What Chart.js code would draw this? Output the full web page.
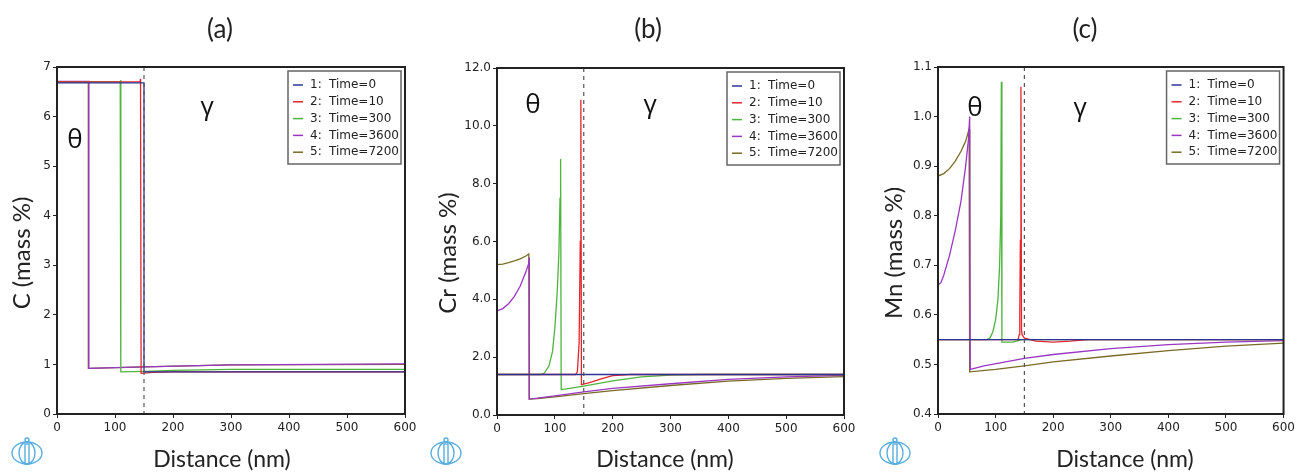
<!DOCTYPE html>
<html><head><meta charset="utf-8">
<script src="https://cdn.jsdelivr.net/npm/chart.js@4.4.1/dist/chart.umd.min.js"></script>
<style>
html,body{margin:0;padding:0;background:#fff;width:1298px;height:473px;overflow:hidden}
.p{position:absolute;top:0;height:473px}
</style></head><body>
<div class="p" style="left:0;width:436px"><canvas id="pa"></canvas></div>
<div class="p" style="left:428px;width:436px"><canvas id="pb"></canvas></div>
<div class="p" style="left:872px;width:426px"><canvas id="pc"></canvas></div>
<script>
/* shared */
const LEGEND_NUM = ["1:", "2:", "3:", "4:", "5:"];
const LEGEND_TEXT = ["Time=0", "Time=10", "Time=300", "Time=3600", "Time=7200"];
const COLORS = ["#2c3496", "#e4262c", "#4db43c", "#9b36c2", "#7b6a26"];
const X_MIN = 0, X_MAX = 600, X_STEP = 100;
const X_TITLE = "Distance (nm)";
const FRONT = 150; // dashed interface line

/* (a) C, mass % */
const cT0 = [[0,6.68],[150,6.68],[150,0.85],[600,0.85]];
const cT10 = [[0,6.7],[143,6.7],[144,6.76],[145,0.82],[165,0.84],[200,0.85],[600,0.85]];
const cT300 = [[0,6.7],[109,6.7],[110,6.74],[110,0.85],[150,0.86],[200,0.88],[300,0.9],[600,0.9]];
const cT3600 = [[0,6.71],[55,6.71],[55,0.92],[150,0.95],[300,0.99],[600,1.01]];
const cT7200 = [[0,6.7],[54,6.7],[54,0.92],[150,0.95],[300,0.99],[600,1.0]];

/* (b) Cr, mass % */
const crT0 = [[0,1.4],[600,1.4]];
const crT10 = [[0,1.4],[136,1.4],[139,1.5],[142,2.5],[144,6],[145,10.9],[146,1.05],[160,1.12],[180,1.25],[200,1.36],[230,1.4],[600,1.4]];
const crT300 = [[0,1.4],[75,1.4],[82,1.45],[90,1.7],[96,2.2],[100,3],[104,4.2],[107,5.6],[109,7.5],[110,8.85],[111,0.88],[120,0.9],[150,1.0],[200,1.18],[250,1.32],[300,1.38],[350,1.4],[600,1.4]];
const crT3600 = [[0,3.6],[10,3.68],[20,3.85],[30,4.1],[40,4.45],[50,4.95],[55,5.25],[56,5.45],[56,0.55],[70,0.58],[100,0.66],[150,0.8],[200,0.92],[300,1.08],[400,1.23],[500,1.32],[600,1.37]];
const crT7200 = [[0,5.2],[10,5.22],[20,5.27],[30,5.33],[40,5.4],[50,5.5],[55,5.57],[55.5,0.55],[70,0.57],[100,0.63],[150,0.74],[200,0.84],[300,1.02],[400,1.17],[500,1.27],[600,1.33]];

/* (c) Mn, mass % */
const mnT0 = [[0,0.55],[600,0.55]];
const mnT10 = [[0,0.55],[139,0.55],[141,0.56],[142,0.6],[143,0.75],[144,1.06],[145,0.57],[146,0.56],[150,0.553],[170,0.547],[200,0.545],[230,0.547],[260,0.55],[600,0.55]];
const mnT300 = [[0,0.55],[85,0.55],[90,0.553],[95,0.565],[100,0.59],[104,0.63],[107,0.7],[109,0.8],[110,1.07],[111,0.545],[130,0.545],[145,0.55],[600,0.55]];
const mnT3600 = [[0,0.66],[5,0.665],[10,0.68],[20,0.72],[30,0.77],[40,0.83],[48,0.9],[53,0.955],[55,1.0],[56,0.49],[80,0.497],[150,0.512],[200,0.52],[300,0.532],[400,0.54],[500,0.545],[600,0.548]];
const mnT7200 = [[0,0.88],[10,0.885],[20,0.895],[30,0.91],[40,0.93],[48,0.95],[54,0.975],[55,0.485],[100,0.49],[150,0.497],[200,0.505],[300,0.517],[400,0.528],[500,0.537],[600,0.543]];

const TXT = "#222";
const tickFont = { family: "'DejaVu Sans', sans-serif", size: 12 };

// titles, frame, dashed interface, phase labels, boxed legend, logo
const deco = {
  id: "deco",
  afterDraw(chart, args, o) {
    const { ctx, chartArea: a, scales: { x, y } } = chart;
    ctx.save();
    ctx.textAlign = "center"; ctx.textBaseline = "middle"; ctx.fillStyle = TXT;
    // panel title and axis titles
    ctx.font = "26px Lato, 'Open Sans', sans-serif";
    ctx.fillText(o.title, o.titleX, 30);
    ctx.font = "23px Lato, 'Open Sans', sans-serif";
    ctx.fillText(X_TITLE, o.xTitleX, 460);
    ctx.save();
    ctx.font = "24px Lato, 'Open Sans', sans-serif";
    ctx.translate(o.yTitleX, 253); ctx.rotate(-Math.PI / 2);
    ctx.fillText(o.yTitle, 0, 0);
    ctx.restore();
    // dashed interface line
    ctx.strokeStyle = "#555"; ctx.lineWidth = 1.2; ctx.setLineDash([4, 4]);
    const fx = x.getPixelForValue(FRONT);
    ctx.beginPath(); ctx.moveTo(fx, a.top); ctx.lineTo(fx, a.bottom); ctx.stroke();
    ctx.setLineDash([]);
    // frame
    ctx.strokeStyle = "#222"; ctx.lineWidth = 2;
    ctx.strokeRect(a.left, a.top, a.right - a.left, a.bottom - a.top);
    // theta / gamma
    ctx.fillStyle = "#111"; ctx.font = "26px 'Open Sans', sans-serif";
    ctx.fillText("θ", x.getPixelForValue(o.theta[0]), y.getPixelForValue(o.theta[1]));
    ctx.fillText("γ", x.getPixelForValue(o.gamma[0]), y.getPixelForValue(o.gamma[1]));
    // legend box
    const bw = 113, bh = 93, bx = a.right - 4 - bw, by = a.top + 4;
    ctx.fillStyle = "#fff"; ctx.fillRect(bx, by, bw, bh);
    ctx.strokeStyle = "#666"; ctx.lineWidth = 1.5; ctx.strokeRect(bx, by, bw, bh);
    ctx.font = "12px 'DejaVu Sans', sans-serif"; ctx.textAlign = "left";
    LEGEND_TEXT.forEach((t, i) => {
      const ly = by + 14 + i * 16.8;
      ctx.strokeStyle = COLORS[i]; ctx.lineWidth = 1.5;
      ctx.beginPath(); ctx.moveTo(bx + 5, ly); ctx.lineTo(bx + 15, ly); ctx.stroke();
      ctx.fillStyle = TXT;
      ctx.fillText(LEGEND_NUM[i], bx + 22, ly);
      ctx.fillText(t, bx + 41, ly);
    });
    // logo
    const lx = o.logo, ly = 453;
    ctx.strokeStyle = "#5aaee0"; ctx.lineWidth = 1.4;
    ctx.beginPath(); ctx.ellipse(lx, ly, 15, 11, 0, 0, Math.PI * 2); ctx.stroke();
    ctx.beginPath(); ctx.ellipse(lx, ly, 8, 11, 0, 0, Math.PI * 2); ctx.stroke();
    ctx.strokeRect(lx - 2, ly - 9, 4, 20);
    ctx.beginPath(); ctx.arc(lx, ly - 13, 2, 0, Math.PI * 2); ctx.stroke();
    ctx.restore();
  }
};

function panel(id, cfg) {
  const sets = cfg.series.map((d, i) => ({
    label: LEGEND_TEXT[i], data: d.map(p => ({ x: p[0], y: p[1] })),
    borderColor: COLORS[i], borderWidth: 1.3, pointRadius: 0, showLine: true, tension: 0, fill: false,
  }));
  new Chart(document.getElementById(id), {
    type: "scatter",
    data: { datasets: sets },
    plugins: [deco],
    options: {
      responsive: true, maintainAspectRatio: false, animation: false, events: [],
      layout: { padding: { left: 0, right: cfg.right, top: cfg.top, bottom: 4 } },
      plugins: {
        legend: { display: false }, tooltip: { enabled: false },
        deco: cfg,
      },
      scales: {
        x: {
          type: "linear", min: X_MIN, max: X_MAX,
          afterFit: s => { s.height = 473 - 4 - cfg.bottom; },
          grid: { drawOnChartArea: false, drawTicks: true, tickLength: 4, color: "#222" },
          border: { display: false },
          ticks: { stepSize: X_STEP, color: TXT, font: tickFont, padding: 3, maxRotation: 0 },
        },
        y: {
          min: cfg.yMin, max: cfg.yMax,
          afterFit: s => { s.width = cfg.left; },
          grid: { drawOnChartArea: false, drawTicks: true, tickLength: 4, color: "#222" },
          border: { display: false },
          ticks: { stepSize: cfg.yStep, color: TXT, font: tickFont, padding: 2, callback: v => v.toFixed(cfg.dec) },
        },
      },
    },
  });
}

panel("pa", { title: "(a)", yTitle: "C (mass %)", yMin: 0, yMax: 7, yStep: 1, dec: 0,
  series: [cT0, cT10, cT300, cT3600, cT7200], left: 57, right: 31, top: 67, bottom: 414,
  titleX: 220, xTitleX: 222, yTitleX: 22,
  theta: [31, 5.52], gamma: [259, 6.19], logo: 27 });
panel("pb", { title: "(b)", yTitle: "Cr (mass %)", yMin: 0, yMax: 12, yStep: 2, dec: 1,
  series: [crT0, crT10, crT300, crT3600, crT7200], left: 69, right: 20, top: 68, bottom: 415,
  titleX: 220, xTitleX: 237, yTitleX: 20,
  theta: [62, 10.7], gamma: [265, 10.7], logo: 18 });
panel("pc", { title: "(c)", yTitle: "Mn (mass %)", yMin: 0.4, yMax: 1.1, yStep: 0.1, dec: 1,
  series: [mnT0, mnT10, mnT300, mnT3600, mnT7200], left: 66, right: 12, top: 67, bottom: 414,
  titleX: 213, xTitleX: 253, yTitleX: 22,
  theta: [64, 1.017], gamma: [247, 1.017], logo: 23 });
</script>
</body></html>
